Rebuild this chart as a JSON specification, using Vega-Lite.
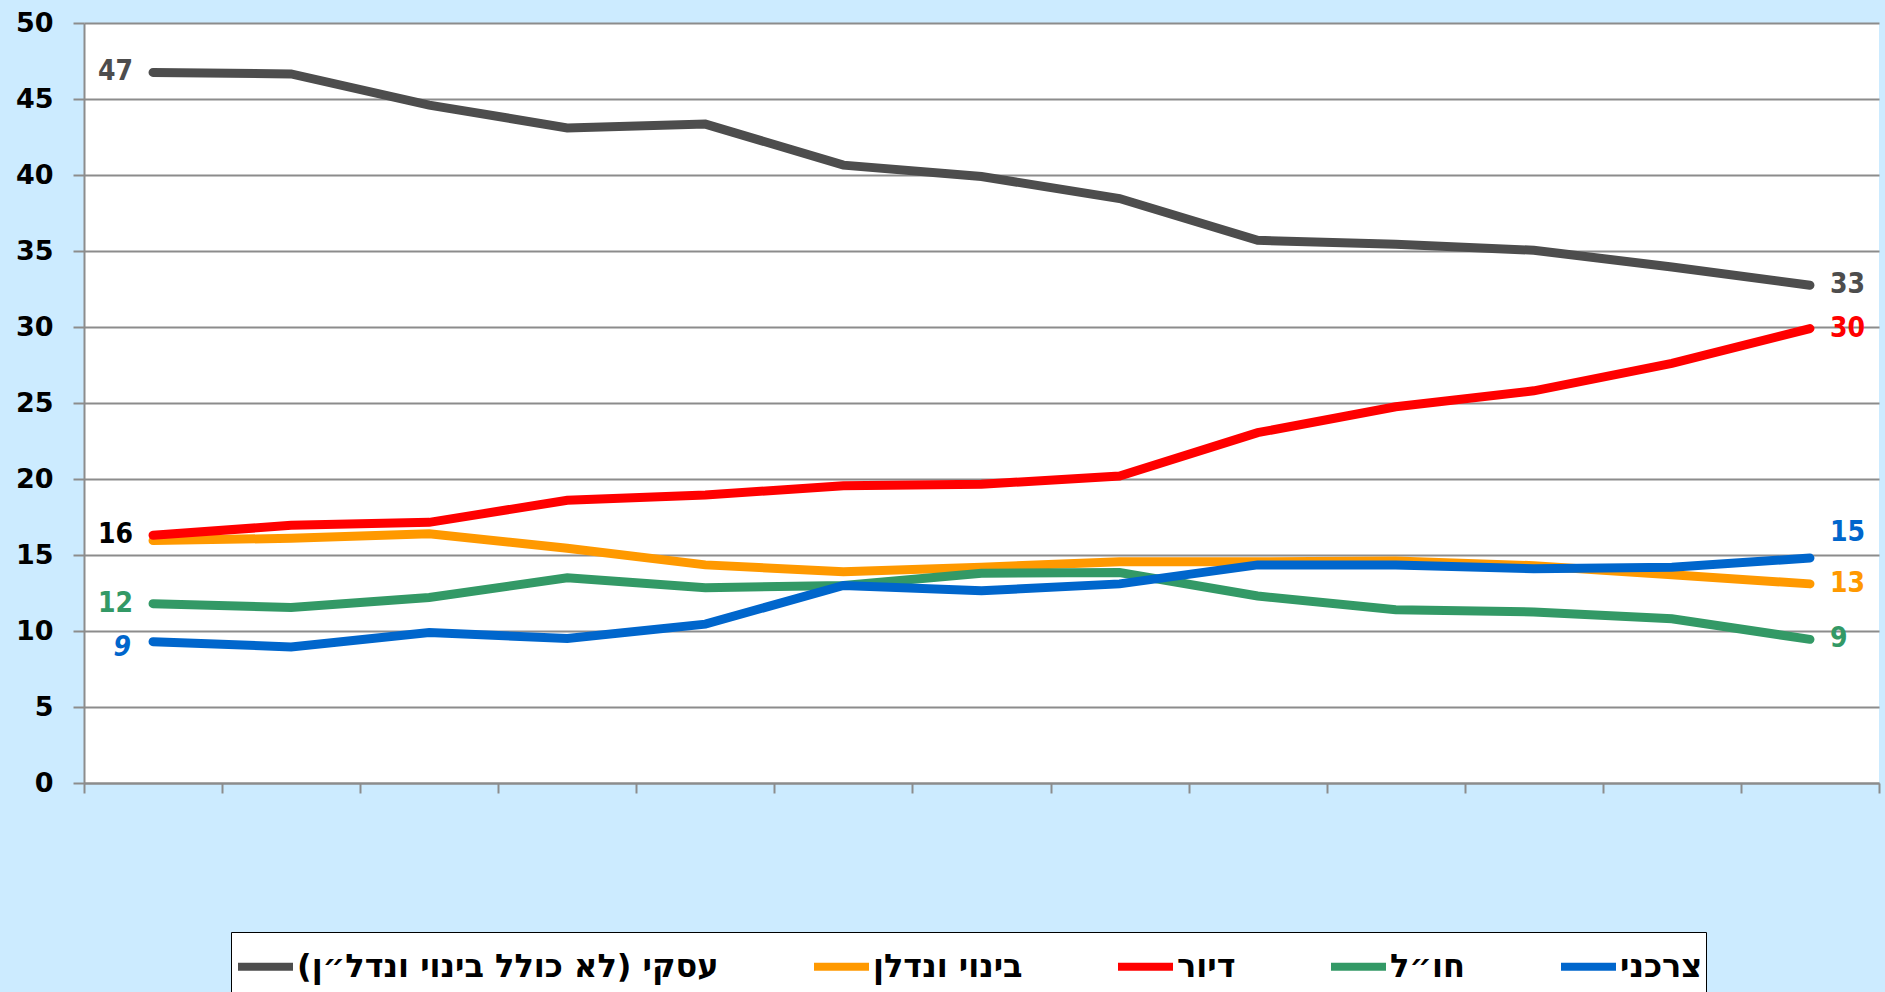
{
  "$schema": "https://vega.github.io/schema/vega-lite/v6.json",
  "width": 1795,
  "height": 760,
  "autosize": "none",
  "padding": {"left": 84, "top": 23, "right": 6, "bottom": 209},
  "background": "#CCEBFF",
  "config": {
    "view": {"fill": "white", "stroke": null},
    "axis": {"gridColor": "#8C8C8C", "gridWidth": 2, "domainColor": "#8C8C8C", "domainWidth": 2, "tickColor": "#8C8C8C", "tickWidth": 2}
  },
  "datasets": {
    "lines": [
      {"series": "עסקי (לא כולל בינוי ונדל״ן)‏", "t": 1, "value": 46.75},
      {"series": "עסקי (לא כולל בינוי ונדל״ן)‏", "t": 2, "value": 46.65},
      {"series": "עסקי (לא כולל בינוי ונדל״ן)‏", "t": 3, "value": 44.6},
      {"series": "עסקי (לא כולל בינוי ונדל״ן)‏", "t": 4, "value": 43.1},
      {"series": "עסקי (לא כולל בינוי ונדל״ן)‏", "t": 5, "value": 43.35},
      {"series": "עסקי (לא כולל בינוי ונדל״ן)‏", "t": 6, "value": 40.65},
      {"series": "עסקי (לא כולל בינוי ונדל״ן)‏", "t": 7, "value": 39.9},
      {"series": "עסקי (לא כולל בינוי ונדל״ן)‏", "t": 8, "value": 38.45},
      {"series": "עסקי (לא כולל בינוי ונדל״ן)‏", "t": 9, "value": 35.7},
      {"series": "עסקי (לא כולל בינוי ונדל״ן)‏", "t": 10, "value": 35.45},
      {"series": "עסקי (לא כולל בינוי ונדל״ן)‏", "t": 11, "value": 35.05},
      {"series": "עסקי (לא כולל בינוי ונדל״ן)‏", "t": 12, "value": 33.95},
      {"series": "עסקי (לא כולל בינוי ונדל״ן)‏", "t": 13, "value": 32.75},
      {"series": "בינוי ונדלן", "t": 1, "value": 15.95},
      {"series": "בינוי ונדלן", "t": 2, "value": 16.1},
      {"series": "בינוי ונדלן", "t": 3, "value": 16.4},
      {"series": "בינוי ונדלן", "t": 4, "value": 15.45},
      {"series": "בינוי ונדלן", "t": 5, "value": 14.35},
      {"series": "בינוי ונדלן", "t": 6, "value": 13.9},
      {"series": "בינוי ונדלן", "t": 7, "value": 14.2},
      {"series": "בינוי ונדלן", "t": 8, "value": 14.55},
      {"series": "בינוי ונדלן", "t": 9, "value": 14.55},
      {"series": "בינוי ונדלן", "t": 10, "value": 14.6},
      {"series": "בינוי ונדלן", "t": 11, "value": 14.3},
      {"series": "בינוי ונדלן", "t": 12, "value": 13.7},
      {"series": "בינוי ונדלן", "t": 13, "value": 13.1},
      {"series": "דיור", "t": 1, "value": 16.3},
      {"series": "דיור", "t": 2, "value": 16.95},
      {"series": "דיור", "t": 3, "value": 17.15},
      {"series": "דיור", "t": 4, "value": 18.6},
      {"series": "דיור", "t": 5, "value": 18.95},
      {"series": "דיור", "t": 6, "value": 19.55},
      {"series": "דיור", "t": 7, "value": 19.65},
      {"series": "דיור", "t": 8, "value": 20.2},
      {"series": "דיור", "t": 9, "value": 23.05},
      {"series": "דיור", "t": 10, "value": 24.75},
      {"series": "דיור", "t": 11, "value": 25.8},
      {"series": "דיור", "t": 12, "value": 27.6},
      {"series": "דיור", "t": 13, "value": 29.9},
      {"series": "חו״ל", "t": 1, "value": 11.8},
      {"series": "חו״ל", "t": 2, "value": 11.55},
      {"series": "חו״ל", "t": 3, "value": 12.2},
      {"series": "חו״ל", "t": 4, "value": 13.5},
      {"series": "חו״ל", "t": 5, "value": 12.85},
      {"series": "חו״ל", "t": 6, "value": 13.0},
      {"series": "חו״ל", "t": 7, "value": 13.8},
      {"series": "חו״ל", "t": 8, "value": 13.85},
      {"series": "חו״ל", "t": 9, "value": 12.3},
      {"series": "חו״ל", "t": 10, "value": 11.4},
      {"series": "חו״ל", "t": 11, "value": 11.25},
      {"series": "חו״ל", "t": 12, "value": 10.8},
      {"series": "חו״ל", "t": 13, "value": 9.45},
      {"series": "צרכני", "t": 1, "value": 9.3},
      {"series": "צרכני", "t": 2, "value": 8.95},
      {"series": "צרכני", "t": 3, "value": 9.9},
      {"series": "צרכני", "t": 4, "value": 9.5},
      {"series": "צרכני", "t": 5, "value": 10.45},
      {"series": "צרכני", "t": 6, "value": 13.0},
      {"series": "צרכני", "t": 7, "value": 12.65},
      {"series": "צרכני", "t": 8, "value": 13.1},
      {"series": "צרכני", "t": 9, "value": 14.35},
      {"series": "צרכני", "t": 10, "value": 14.35},
      {"series": "צרכני", "t": 11, "value": 14.1},
      {"series": "צרכני", "t": 12, "value": 14.2},
      {"series": "צרכני", "t": 13, "value": 14.8}
    ],
    "labels": [
      {"series": "עסקי (לא כולל בינוי ונדל״ן)‏", "t": 1, "value": 46.75, "text": "47", "side": "start"},
      {"series": "בינוי ונדלן", "t": 1, "value": 16.3, "text": "16", "side": "start"},
      {"series": "חו״ל", "t": 1, "value": 11.8, "text": "12", "side": "start"},
      {"series": "צרכני", "t": 1, "value": 9.3, "text": "9", "side": "start"},
      {"series": "עסקי (לא כולל בינוי ונדל״ן)‏", "t": 13, "value": 32.75, "text": "33", "side": "end"},
      {"series": "דיור", "t": 13, "value": 29.9, "text": "30", "side": "end"},
      {"series": "צרכני", "t": 13, "value": 14.8, "text": "15", "side": "end"},
      {"series": "בינוי ונדלן", "t": 13, "value": 13.1, "text": "13", "side": "end"},
      {"series": "חו״ל", "t": 13, "value": 9.45, "text": "9", "side": "end"}
    ]
  },
  "encoding": {
    "x": {
      "field": "t", "type": "quantitative",
      "scale": {"domain": [0.5, 13.5], "nice": false, "zero": false},
      "axis": {"title": null, "labels": false, "grid": false, "tickSize": 10,
        "values": [0.5, 1.5, 2.5, 3.5, 4.5, 5.5, 6.5, 7.5, 8.5, 9.5, 10.5, 11.5, 12.5, 13.5]}
    },
    "y": {
      "field": "value", "type": "quantitative",
      "scale": {"domain": [0, 50], "nice": false},
      "axis": {"title": null, "values": [0, 5, 10, 15, 20, 25, 30, 35, 40, 45, 50], "tickSize": 11, "labelPadding": 20,
        "labelFont": "DejaVu Sans", "labelFontWeight": "bold", "labelFontSize": 27, "labelColor": "black"}
    }
  },
  "layer": [
    {
      "data": {"name": "lines"},
      "mark": {"type": "line", "strokeWidth": 9, "strokeCap": "round"},
      "encoding": {
        "color": {
          "field": "series", "type": "nominal",
          "scale": {
            "domain": ["עסקי (לא כולל בינוי ונדל״ן)‏", "בינוי ונדלן", "דיור", "חו״ל", "צרכני"],
            "range": ["#4D4D4D", "#FF9900", "#FF0000", "#339966", "#0066CC"]
          },
          "legend": {
            "title": " ", "titleOrient": "bottom", "titleFontSize": 40, "titlePadding": 0, "titleColor": "white",
            "orient": "none", "direction": "horizontal", "columns": 5,
            "legendX": 147, "legendY": 909,
            "fillColor": "white", "strokeColor": "black", "padding": 3,
            "symbolType": "stroke", "symbolSize": 3025, "symbolStrokeWidth": 8,
            "labelFont": "DejaVu Sans", "labelFontWeight": "bold", "labelFontSize": 32, "labelColor": "black",
            "labelOffset": 0, "columnPadding": 79, "labelLimit": 700
          }
        }
      }
    },
    {
      "data": {"name": "labels"},
      "transform": [{"filter": "datum.side === 'start' && datum.series !== 'צרכני'"}],
      "mark": {"type": "text", "align": "right", "baseline": "middle", "dx": -20, "font": "DejaVu Sans Condensed", "fontWeight": "bold", "fontSize": 28},
      "encoding": {
        "text": {"field": "text"},
        "color": {"condition": {"test": "datum.series === 'בינוי ונדלן'", "value": "black"}, "field": "series", "type": "nominal", "legend": null}
      }
    },
    {
      "data": {"name": "labels"},
      "transform": [{"filter": "datum.side === 'start' && datum.series === 'צרכני'"}],
      "mark": {"type": "text", "align": "right", "baseline": "middle", "dx": -22, "dy": 6, "fontStyle": "italic", "font": "DejaVu Sans Condensed", "fontWeight": "bold", "fontSize": 28},
      "encoding": {
        "text": {"field": "text"},
        "color": {"field": "series", "type": "nominal", "legend": null}
      }
    },
    {
      "data": {"name": "labels"},
      "transform": [{"filter": "datum.side === 'end' && datum.series !== 'צרכני'"}],
      "mark": {"type": "text", "align": "left", "baseline": "middle", "dx": 20, "font": "DejaVu Sans Condensed", "fontWeight": "bold", "fontSize": 28},
      "encoding": {
        "text": {"field": "text"},
        "color": {"field": "series", "type": "nominal", "legend": null}
      }
    },
    {
      "data": {"name": "labels"},
      "transform": [{"filter": "datum.side === 'end' && datum.series === 'צרכני'"}],
      "mark": {"type": "text", "align": "left", "baseline": "middle", "dx": 20, "dy": -25, "font": "DejaVu Sans Condensed", "fontWeight": "bold", "fontSize": 28},
      "encoding": {
        "text": {"field": "text"},
        "color": {"field": "series", "type": "nominal", "legend": null}
      }
    }
  ]
}
